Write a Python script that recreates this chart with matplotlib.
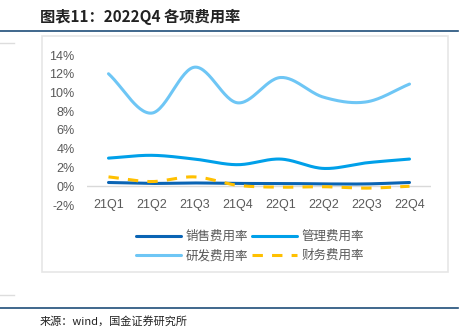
import numpy as np
import matplotlib.pyplot as plt
from matplotlib.lines import Line2D
from matplotlib.patches import Rectangle

plt.rcParams['font.family'] = ['Noto Sans CJK SC', 'DejaVu Sans']

quarters = ['21Q1', '21Q2', '21Q3', '21Q4', '22Q1', '22Q2', '22Q3', '22Q4']
sales = [0.4, 0.3, 0.35, 0.3, 0.3, 0.25, 0.25, 0.4]
admin = [3.0, 3.3, 2.9, 2.3, 2.9, 1.9, 2.5, 2.9]
rnd = [12.0, 7.8, 12.7, 8.9, 11.6, 9.5, 9.0, 10.9]
finance = [1.0, 0.5, 1.0, 0.1, -0.1, -0.05, -0.2, 0.0]

names = ['销售费用率', '管理费用率', '研发费用率', '财务费用率']
colors = ['#0A64B4', '#00A0E9', '#6EC6F5', '#FFC000']


def smooth(y, n=30):
    # Catmull-Rom curve through the points, like Excel's smoothed line
    y = np.asarray(y, dtype=float)
    p = np.concatenate([[2 * y[0] - y[1]], y, [2 * y[-1] - y[-2]]])
    xs, ys = [], []
    for i in range(len(y) - 1):
        t = np.linspace(0, 1, n, endpoint=False)
        p0, p1, p2, p3 = p[i], p[i + 1], p[i + 2], p[i + 3]
        v = 0.5 * ((2 * p1) + (-p0 + p2) * t + (2 * p0 - 5 * p1 + 4 * p2 - p3) * t ** 2
                   + (-p0 + 3 * p1 - 3 * p2 + p3) * t ** 3)
        xs.append(i + t)
        ys.append(v)
    xs.append([len(y) - 1])
    ys.append([y[-1]])
    return np.concatenate(xs), np.concatenate(ys)


fig = plt.figure(figsize=(4.69, 3.29), dpi=100)

# frame around the chart
fig.patches.append(Rectangle((42 / 469, 1 - 272 / 329), 406 / 469, 236 / 329,
                             transform=fig.transFigure, fill=False,
                             edgecolor='#E6E6E6', linewidth=1.2))
fig.add_artist(Line2D([0, 458 / 469], [1 - 31 / 329] * 2, color='#1F4E79', lw=1.2))
fig.add_artist(Line2D([0, 458 / 469], [1 - 308 / 329] * 2, color='#1F4E79', lw=1.2))
fig.add_artist(Line2D([0, 14 / 469], [1 - 43 / 329] * 2, color='#DDDDDD', lw=1))
fig.add_artist(Line2D([0, 14 / 469], [1 - 295 / 329] * 2, color='#DDDDDD', lw=1))

fig.text(40 / 469, 1 - 17 / 329, '图表11：2022Q4 各项费用率', fontsize=11, fontweight='bold',
         style='italic', color='#222222', va='center')
fig.text(40 / 469, 1 - 321 / 329, '来源：wind，国金证券研究所', fontsize=8, color='#222222', va='center')

ax = fig.add_axes([87 / 469, 1 - 205 / 329, 344 / 469, 150 / 329])
x = np.arange(len(quarters))
handles = []
for vals, name, c in zip([sales, admin, rnd, finance], names, colors):
    sx, sy = smooth(vals)
    if name == '财务费用率':
        h, = ax.plot(sx, sy, color=c, lw=2.2, dashes=(3.4, 3.0), solid_capstyle='butt', label=name)
    else:
        h, = ax.plot(sx, sy, color=c, lw=2.2, label=name, solid_capstyle='round')
    handles.append(h)

ax.set_xlim(-0.5, 7.5)
ax.set_ylim(-2, 14)
ax.set_yticks(np.arange(-2, 15, 2))
ax.set_yticklabels([f'{v}%' for v in range(-2, 15, 2)])
ax.set_xticks(x)
ax.set_xticklabels(quarters)
ax.axhline(0, color='#D9D9D9', lw=1, zorder=0)
for s in ax.spines.values():
    s.set_visible(False)
ax.tick_params(axis='both', length=0, labelsize=9, labelcolor='#595959')
ax.tick_params(axis='y', pad=9)
for lbl in ax.get_xticklabels() + ax.get_yticklabels():
    lbl.set_family(['Liberation Sans', 'DejaVu Sans'])
# x tick labels sit just below the 0% line
for lbl in ax.get_xticklabels():
    lbl.set_y(0.03)
    lbl.set_va('center')
ax.patch.set_alpha(0)

order = [0, 2, 1, 3]
fig.legend([handles[i] for i in order], [names[i] for i in order],
           loc='center', bbox_to_anchor=(250 / 469, 1 - 246 / 329), ncol=2, frameon=False,
           fontsize=9, labelcolor='#595959', handlelength=3.6, handletextpad=0.4,
           columnspacing=0.3, labelspacing=0.5)

fig.savefig('out.png', dpi=100)
